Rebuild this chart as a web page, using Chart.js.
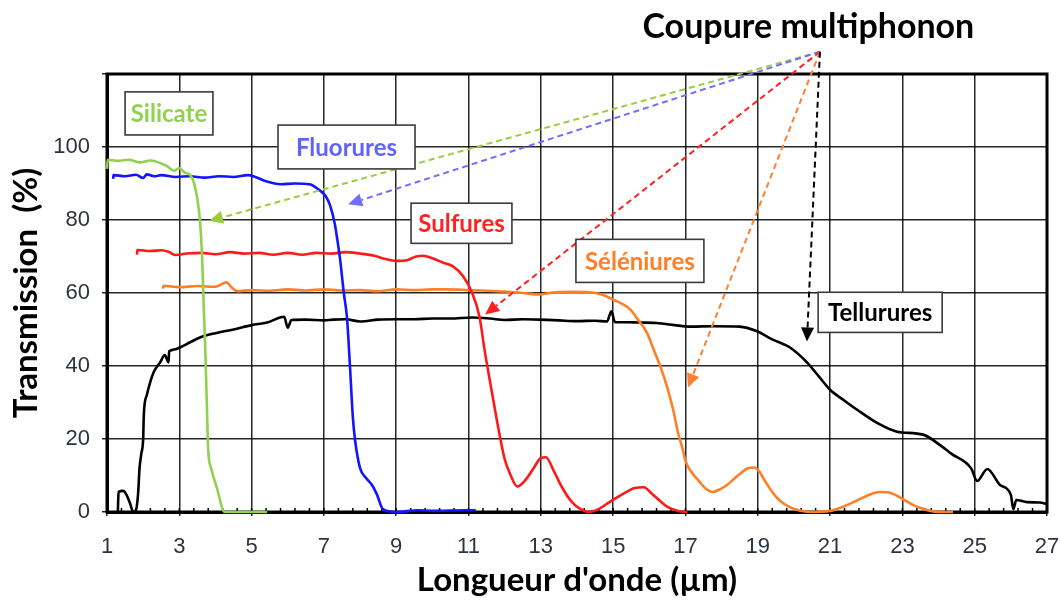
<!DOCTYPE html>
<html>
<head>
<meta charset="utf-8">
<script src="https://cdn.jsdelivr.net/npm/chart.js@4.4.1/dist/chart.umd.min.js"></script>
<style>
  html, body { margin: 0; padding: 0; background: #fff; }
  #wrap { width: 1060px; height: 603px; }
</style>
</head>
<body>
<div id="wrap"><canvas id="chart" width="1060" height="603"></canvas></div>
<script>
// ---- data: [wavelength (µm), transmission (%)] ----
const silicate = [
  [1.0,94],[1.02,96.5],[1.3,96.2],[1.6,96.5],[1.9,95.8],[2.2,96.3],[2.5,95.5],[2.65,94.8],
  [2.85,93.5],[3.0,94.2],[3.15,93],[3.3,92.3],[3.4,90.4],[3.5,85.7],[3.57,80],[3.63,70],
  [3.68,55],[3.72,44],[3.76,30],[3.8,17],[3.88,12],[4.04,6.6],[4.25,0],[5.43,0]
];
const fluorures = [
  [1.17,91.3],[1.18,92.3],[1.5,92],[1.8,92.4],[2.0,91.5],[2.1,92.5],[2.3,92],[2.5,92.3],
  [2.9,91.8],[3.3,92],[3.7,91.6],[4.1,92],[4.5,91.8],[4.9,92.3],[5.1,91.8],[5.4,90.6],
  [5.8,89.8],[6.2,90],[6.6,89.8],[6.9,88],[7.05,86.5],[7.17,84],[7.3,79],[7.38,74],
  [7.45,69],[7.55,60],[7.64,53],[7.72,40],[7.8,26],[7.86,19.8],[8.0,12],[8.15,9.5],
  [8.33,7.4],[8.47,4.7],[8.63,0.8],[9.0,0],[9.6,0.5],[10.0,0.3],[10.5,0.4],[11.2,0.5]
];
const sulfures = [
  [1.83,70.5],[1.84,71.8],[2.2,71.5],[2.5,71.7],[2.7,71.3],[2.9,70.4],[3.2,70.8],[3.6,71],
  [4.0,70.6],[4.4,71.2],[4.8,70.8],[5.2,71],[5.6,70.5],[6.0,71],[6.4,70.5],[6.8,71],
  [7.2,70.8],[7.6,71.2],[8.0,70.8],[8.4,70.2],[8.7,69.3],[9.0,68.8],[9.3,69],[9.55,70],
  [9.75,70.2],[10.0,69.5],[10.3,68.3],[10.57,67.3],[10.85,64.6],[11.1,60],[11.3,53.6],
  [11.45,44],[11.6,35.4],[11.75,27],[11.87,20.6],[12.0,14.5],[12.15,10.4],[12.35,7],
  [12.55,8.5],[12.8,12],[13.0,14.8],[13.14,15],[13.37,11],[13.6,6.5],[13.86,2.7],
  [14.1,0.8],[14.33,0],[14.6,0.8],[14.9,2.7],[15.25,4.8],[15.6,6.6],[15.85,6.8],
  [16.05,5.2],[16.3,3],[16.5,1.4],[16.8,0.3],[17.05,0]
];
const seleniures = [
  [2.55,61.2],[2.56,62],[3.0,61.6],[3.5,61.9],[4.0,61.7],[4.3,62.9],[4.45,61.5],[4.6,60.5],
  [5.0,60.8],[5.5,60.6],[6.0,61],[6.5,60.7],[7.0,61],[7.5,60.7],[8.0,60.8],[8.5,60.5],
  [9.0,61],[9.5,60.8],[10.0,61],[10.4,61],[11.0,60.8],[11.5,60.6],[12.0,60.4],[12.5,60],
  [12.98,59.6],[13.4,60.2],[13.9,60.3],[14.35,60.2],[14.7,59.5],[15.0,58.2],[15.25,57],
  [15.47,55.5],[15.7,52.5],[15.94,49],[16.1,45],[16.3,40],[16.5,34],[16.66,28],[16.8,21.5],
  [16.93,17],[17.0,14],[17.2,10.5],[17.37,8.5],[17.55,6.5],[17.76,5.5],[17.95,6.2],
  [18.15,7.4],[18.45,10],[18.73,12],[18.9,12.2],[19.05,11],[19.2,8.5],[19.4,5.5],
  [19.6,3.2],[19.87,1.4],[20.15,0.4],[20.45,0],[21.0,0.3],[21.4,1.6],[21.77,3.3],
  [22.1,4.8],[22.35,5.5],[22.6,5.4],[22.8,4.7],[23.05,3.3],[23.3,1.9],[23.6,0.8],
  [23.9,0.1],[24.4,0]
];
const tellurures = [
  [1.3,0],[1.32,5.5],[1.45,5.8],[1.55,4.5],[1.65,2],[1.72,0],[1.8,0.5],[1.86,5],[1.9,12],
  [1.95,16],[2.0,20],[2.02,27],[2.1,32],[2.19,35.4],[2.3,38.5],[2.47,41],[2.6,43],[2.7,41],
  [2.72,44],[2.85,44.5],[3.0,45],[3.3,46.5],[3.57,47.8],[4.0,49],[4.5,50],[5.0,51.2],
  [5.43,51.9],[5.9,53.5],[6.0,50.5],[6.1,52.6],[6.5,52.7],[7.0,52.5],[7.25,52.7],[7.6,52.8],
  [8.0,52.2],[8.5,52.7],[9.0,52.8],[9.5,52.8],[10.0,53],[10.5,53],[11.1,53.3],[11.6,53],
  [12.0,52.6],[12.5,52.8],[12.98,52.7],[13.5,52.5],[14.0,52.3],[14.5,52.4],[14.83,52.2],
  [14.95,55],[15.05,52],[15.4,52],[15.74,51.9],[16.2,51.8],[16.7,51.2],[17.13,50.8],
  [17.8,50.9],[18.5,50.8],[18.98,49.5],[19.4,47.3],[19.9,45],[20.36,41],[20.7,37],
  [21.0,33.5],[21.4,30.5],[21.75,28],[22.3,24.4],[22.85,22],[23.57,21.2],[24.1,17.9],
  [24.35,16],[24.9,12],[25.07,8.5],[25.35,11.8],[25.7,7.4],[26.0,4.7],[26.07,0.8],
  [26.15,3.3],[26.45,2.7],[26.8,2.6],[27,2.2]
];

// axes
const xMin = 1, xMax = 27, xStep = 2;
const yMin = 0, yMax = 120, yStep = 20;

// text boxes: [label, x1, y1, x2, y2, colour] in data units
const boxes = [
  ['Silicate',   1.50, 115.1,  3.93, 103.3, '#92d050'],
  ['Fluorures',  5.73, 106.0,  9.52,  94.0, '#6262ff'],
  ['Sulfures',   9.41,  84.6, 12.20,  73.6, '#ff2222'],
  ['Séléniures',13.97,  74.7, 17.51,  62.9, '#ff7f27'],
  ['Tellurures',20.67,  60.2, 24.10,  49.2, '#000000']
];
// dashed arrows from the "Coupure multiphonon" point to each cut-off
const arrowFrom = [20.72, 126.1];
const arrows = [
  [3.82, 79.7, '#9acd3c'],
  [7.67, 84.3, '#6f6fff'],
  [11.46, 54.1, '#ff2020'],
  [17.07, 34.1, '#ff8030'],
  [20.36, 46.7, '#000000']
];
const topLabel = ['Coupure multiphonon', 20.4, 133];

const toXY = arr => arr.map(p => ({x: p[0], y: p[1]}));

function line(label, pts, color) {
  return {
    label: label, data: toXY(pts), borderColor: color, borderWidth: 2.6,
    pointRadius: 0, fill: false, cubicInterpolationMode: 'monotone', clip: 6
  };
}

const decor = {
  id: 'decor',
  beforeDatasetsDraw(chart) {
    const {ctx, chartArea: a, scales: {x}} = chart;
    ctx.save();
    ctx.strokeStyle = '#000';
    ctx.lineWidth = 1.5;
    for (let v = xMin; v <= xMax + 1e-6; v += 0.4) {
      const px = x.getPixelForValue(v);
      ctx.beginPath(); ctx.moveTo(px, a.bottom); ctx.lineTo(px, a.bottom - 4); ctx.stroke();
    }
    ctx.lineWidth = 3;
    ctx.strokeRect(a.left, a.top, a.right - a.left, a.bottom - a.top);
    ctx.restore();
  },
  afterDatasetsDraw(chart) {
    const {ctx, scales: {x, y}} = chart;
    ctx.save();
    // arrows
    const ox = x.getPixelForValue(arrowFrom[0]), oy = y.getPixelForValue(arrowFrom[1]);
    arrows.forEach(([tx, ty, col]) => {
      const px = x.getPixelForValue(tx), py = y.getPixelForValue(ty);
      const ang = Math.atan2(py - oy, px - ox);
      const hl = 14, hw = 6.5;
      const bx = px - hl * Math.cos(ang), by = py - hl * Math.sin(ang);
      ctx.strokeStyle = col; ctx.fillStyle = col; ctx.lineWidth = 2;
      ctx.setLineDash([6, 4]);
      ctx.beginPath(); ctx.moveTo(ox, oy); ctx.lineTo(bx, by); ctx.stroke();
      ctx.setLineDash([]);
      ctx.beginPath();
      ctx.moveTo(px, py);
      ctx.lineTo(bx + hw * Math.sin(ang), by - hw * Math.cos(ang));
      ctx.lineTo(bx - hw * Math.sin(ang), by + hw * Math.cos(ang));
      ctx.closePath(); ctx.fill();
    });
    // boxes
    ctx.font = 'bold 24px Lato, "Noto Sans", sans-serif';
    ctx.textAlign = 'center'; ctx.textBaseline = 'middle';
    boxes.forEach(([txt, x1, y1, x2, y2, col]) => {
      const l = x.getPixelForValue(x1), r = x.getPixelForValue(x2);
      const t = y.getPixelForValue(y1), b = y.getPixelForValue(y2);
      ctx.fillStyle = '#fff'; ctx.fillRect(l, t, r - l, b - t);
      ctx.strokeStyle = '#3a3a3a'; ctx.lineWidth = 1.6; ctx.strokeRect(l, t, r - l, b - t);
      ctx.fillStyle = col; ctx.fillText(txt, (l + r) / 2, (t + b) / 2 + 1);
    });
    ctx.font = 'bold 34px Lato, "Noto Sans", sans-serif';
    ctx.fillStyle = '#000';
    ctx.fillText(topLabel[0], x.getPixelForValue(topLabel[1]), y.getPixelForValue(topLabel[2]));
    ctx.restore();
  }
};

new Chart(document.getElementById('chart'), {
  type: 'line',
  data: {
    datasets: [
      line('Silicate', silicate, '#92d050'),
      line('Fluorures', fluorures, '#1414ff'),
      line('Sulfures', sulfures, '#ff1a1a'),
      line('Séléniures', seleniures, '#ff7f27'),
      line('Tellurures', tellurures, '#000000')
    ]
  },
  options: {
    responsive: false,
    animation: false,
    devicePixelRatio: 1,
    layout: { padding: { top: 74, right: 13, left: 0, bottom: 0 } },
    plugins: { legend: { display: false }, tooltip: { enabled: false } },
    scales: {
      x: {
        type: 'linear', min: xMin, max: xMax,
        afterFit: s => { s.height = 91; s.paddingLeft = 0; s.paddingRight = 0; },
        ticks: { stepSize: xStep, padding: 18, color: '#2d3340',
                 font: { family: '"Liberation Sans", Arial, sans-serif', size: 22 } },
        grid: { color: 'rgba(0,0,0,0.85)', lineWidth: 1.5, tickLength: 4 },
        border: { color: '#000', width: 3 },
        title: { display: true, text: "Longueur d'onde (µm)", color: '#000',
                 font: { family: 'Lato, "Noto Sans", sans-serif', size: 33, weight: 'bold' },
                 padding: { top: 3, bottom: 3 } }
      },
      y: {
        min: yMin, max: yMax,
        afterFit: s => { s.width = 107; s.paddingTop = 0; s.paddingBottom = 0; },
        ticks: { stepSize: yStep, padding: 12, color: '#2d3340',
                 font: { family: '"Liberation Sans", Arial, sans-serif', size: 22 },
                 callback: v => (v === yMax ? '' : v) },
        grid: { color: 'rgba(0,0,0,0.85)', lineWidth: 1.5, tickLength: 5 },
        border: { color: '#000', width: 3 },
        title: { display: true, text: 'Transmission  (%)', color: '#000',
                 font: { family: 'Lato, "Noto Sans", sans-serif', size: 33, weight: 'bold' },
                 padding: { top: 7, bottom: 7 } }
      }
    }
  },
  plugins: [decor]
});
</script>
</body>
</html>
